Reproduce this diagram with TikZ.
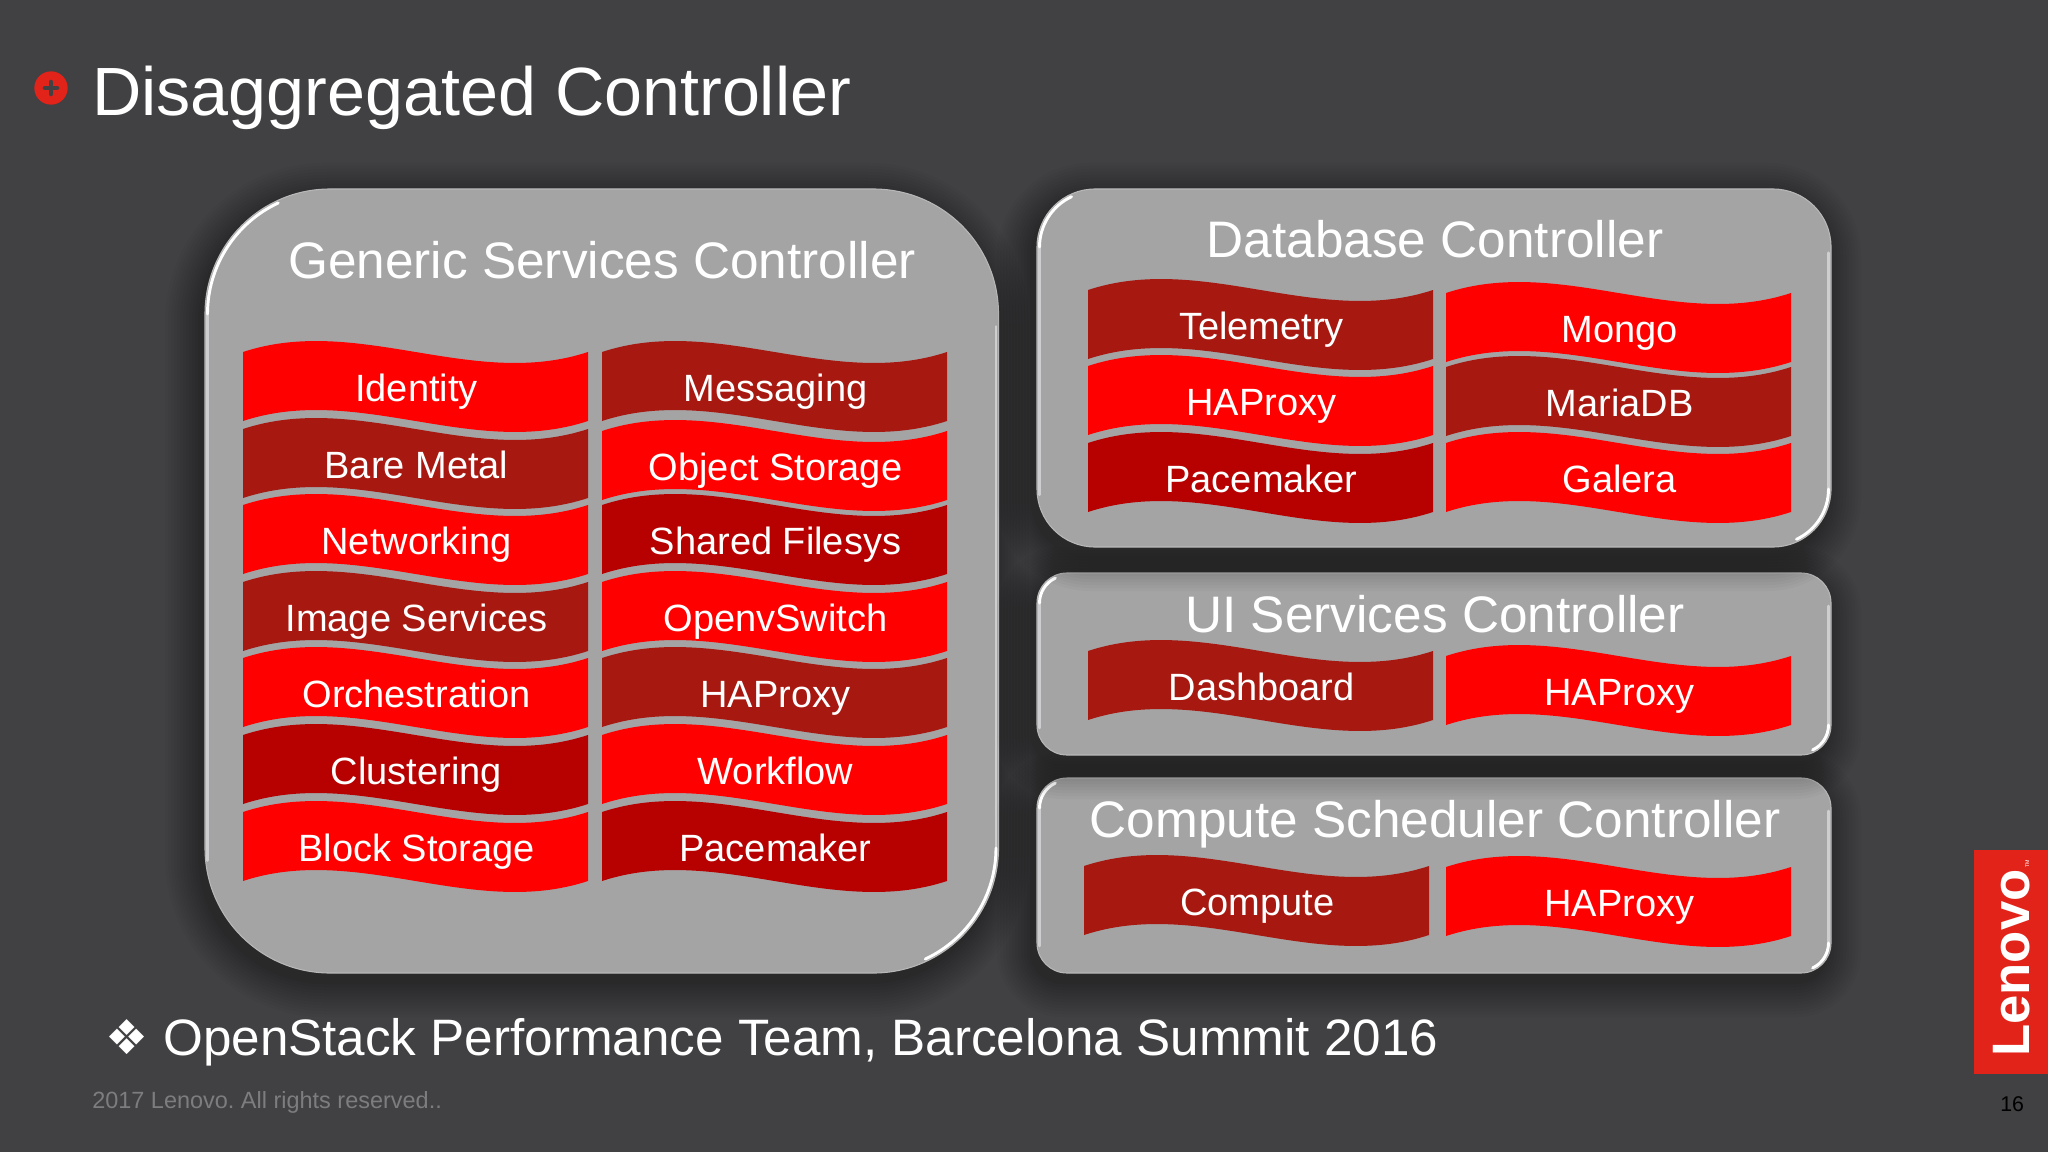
\documentclass[tikz,border=0pt]{standalone}
\usepackage{fontspec}
\setmainfont{Liberation Sans}
\newfontfamily\dingFont{DejaVu Sans}
\usepackage{tikz}
\frenchspacing
\tikzstyle{slide} = [x = .75pt, y = -.75pt]
\definecolor{slideColor}{RGB}{65,64,66}
\definecolor{panelColor}{RGB}{164,164,165}
\definecolor{panelEdge}{RGB}{184,184,185}
\definecolor{rimColor}{RGB}{206,206,208}
\definecolor{brightRed}{RGB}{255,0,0}
\definecolor{darkRed}{RGB}{167,24,17}
\definecolor{deepRed}{RGB}{183,0,0}
\definecolor{lenovoRed}{RGB}{226,35,26}
\definecolor{copyGray}{RGB}{125,125,127}
\tikzstyle{panelStyle} = [fill=panelColor, draw=panelEdge, line width=.8pt]
\tikzstyle{rimLine} = [draw=rimColor, line width=2pt, line cap=round]
\tikzstyle{rimGlow} = [draw=white, line width=2.2pt, line cap=round]
\tikzstyle{shadowStyle} = [fill=black, opacity=.022]
\tikzstyle{bannerText} = [text=white, anchor=base, inner sep=0pt, font=\fontsize{28.5}{30}\selectfont]
\tikzstyle{panelTitle} = [text=white, anchor=base, inner sep=0pt, font=\fontsize{38.5}{40}\selectfont]
\tikzstyle{plainText} = [anchor=base west, inner sep=0pt]
\newcommand{\bw}{345}
\newcommand{\bh}{69}
\newcommand{\wv}{38}
\newcommand{\waveBanner}[5]{
  \fill [#4] (#2, #3) .. controls (#2 + \bw / 3, #3 - \wv) and (#2 + 2 * \bw / 3, #3 + \wv) .. (#2 + \bw, #3)
    -- (#2 + \bw, #3 + \bh) .. controls (#2 + 2 * \bw / 3, #3 + \bh + \wv) and (#2 + \bw / 3, #3 + \bh - \wv) .. (#2, #3 + \bh) -- cycle;
  \node [bannerText] (#1) at (#2 + \bw / 2 + 1, #3 + 49.5) {#5};
}
\newcommand{\softPanel}[5]{
  \foreach \spread in {2,5,...,35} {
    \pgfmathsetmacro{\var}{#5 + \spread}
    \fill [shadowStyle, rounded corners = \var * .75pt] (#1 - 5 - \spread, #2 + 9 - \spread) rectangle (#3 - 5 + \spread, #4 + 9 + \spread);
  }
  \filldraw [panelStyle, rounded corners = #5 * .75pt] (#1, #2) rectangle (#3, #4);
  \draw [rimLine] (#1 + 2.5, #4 - #5 * .9) -- (#1 + 2.5, #2 + #5);
  \draw [rimGlow] (#1 + 2.5, #2 + #5) arc [start angle = 180, end angle = 245, radius = #5 - 2.5];
  \draw [rimLine] (#3 - 2.5, #2 + #5 * 1.1) -- (#3 - 2.5, #4 - #5);
  \draw [rimGlow] (#3 - 2.5, #4 - #5) arc [start angle = 0, end angle = 65, radius = #5 - 2.5];
}
\begin{document}
\begin{tikzpicture}[slide]
  \fill [slideColor] (0,0) rectangle (2048,1152);
  \useasboundingbox (0,0) rectangle (2048,1152);

  % title line
  \node [circle, fill=lenovoRed, minimum size=25pt, inner sep=0pt] (bulletDot) at (51,88) {};
  \draw [slideColor, line width=3.4pt, line cap=round] (45,88) -- (57,88);
  \draw [slideColor, line width=3.4pt, line cap=round] (51,82) -- (51,94);
  \node [plainText, text=white, font=\fontsize{51.2}{54}\selectfont] (slideTitle) at (92,116) {Disaggregated Controller};

  % panels, lower ones first
  \softPanel{205}{189}{998.5}{973}{125}
  \softPanel{1037}{778}{1831}{973}{30}
  \softPanel{1037}{573}{1831}{755}{30}
  \softPanel{1037}{189}{1831}{547}{58}

  \node [panelTitle] (genericTitle) at (602,278) {Generic Services Controller};
  \node [panelTitle] (databaseTitle) at (1435,257) {Database Controller};
  \node [panelTitle] (uiTitle) at (1435,632.5) {UI Services Controller};
  \node [panelTitle] (computeTitle) at (1435,837.5) {Compute Scheduler Controller};

  \waveBanner{identity}{243}{352}{brightRed}{Identity}
  \waveBanner{bareMetal}{243}{429}{darkRed}{Bare Metal}
  \waveBanner{networking}{243}{505}{brightRed}{Networking}
  \waveBanner{imageServices}{243}{582}{darkRed}{Image Services}
  \waveBanner{orchestration}{243}{658}{brightRed}{Orchestration}
  \waveBanner{clustering}{243}{735}{deepRed}{Clustering}
  \waveBanner{blockStorage}{243}{812}{brightRed}{Block Storage}

  \waveBanner{messaging}{602}{352}{darkRed}{Messaging}
  \waveBanner{objectStorage}{602}{431}{brightRed}{Object Storage}
  \waveBanner{sharedFilesys}{602}{505}{deepRed}{Shared Filesys}
  \waveBanner{openvSwitch}{602}{582}{brightRed}{OpenvSwitch}
  \waveBanner{haproxyGeneric}{602}{658}{darkRed}{HAProxy}
  \waveBanner{workflow}{602}{735}{brightRed}{Workflow}
  \waveBanner{pacemakerGeneric}{602}{812}{deepRed}{Pacemaker}

  \waveBanner{telemetry}{1088}{290}{darkRed}{Telemetry}
  \waveBanner{haproxyDatabase}{1088}{366}{brightRed}{HAProxy}
  \waveBanner{pacemakerDatabase}{1088}{443}{deepRed}{Pacemaker}
  \waveBanner{mongo}{1446}{293}{brightRed}{Mongo}
  \waveBanner{mariaDB}{1446}{367}{darkRed}{MariaDB}
  \waveBanner{galera}{1446}{443}{brightRed}{Galera}

  \waveBanner{dashboard}{1088}{651}{darkRed}{Dashboard}
  \waveBanner{haproxyUi}{1446}{656}{brightRed}{HAProxy}
  \waveBanner{compute}{1084}{866}{darkRed}{Compute}
  \waveBanner{haproxyCompute}{1446}{867}{brightRed}{HAProxy}

  % footer
  \node [text=white, inner sep=0pt, font=\dingFont\fontsize{36}{38}\selectfont] (summitBullet) at (127,1037) {❖};
  \node [plainText, text=white, font=\fontsize{38.4}{40}\selectfont] (summitText) at (163,1055) {OpenStack Performance Team, Barcelona Summit 2016};
  \node [plainText, text=copyGray, font=\fontsize{17.6}{19}\selectfont] (copyright) at (92,1108.5) {2017 Lenovo. All rights reserved..};
  \node [plainText, text=black, font=\fontsize{16}{17}\selectfont] (pageNumber) at (2000,1111) {16};

  % logo
  \fill [lenovoRed] (1974,850) rectangle (2048,1074);
  \node [plainText, rotate=90, text=white, font=\bfseries\fontsize{39.5}{41}\selectfont] (lenovoLogo) at (2029,1057) {Lenovo};
  \node [plainText, rotate=90, text=white, font=\fontsize{4}{5}\selectfont] (lenovoMark) at (2029,868) {TM};
\end{tikzpicture}
\end{document}
